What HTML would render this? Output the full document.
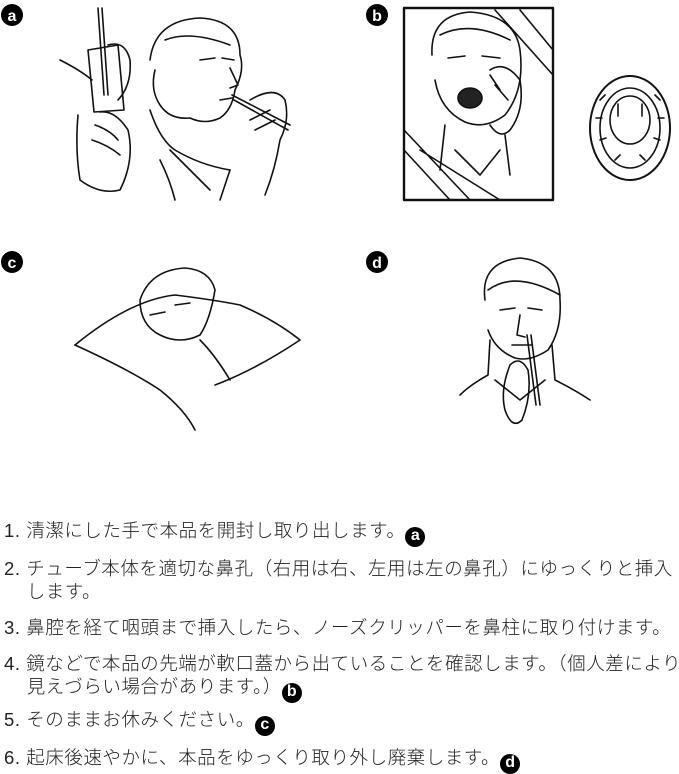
<!DOCTYPE html>
<html><head><meta charset="utf-8"><style>
body{margin:0;width:679px;height:767px;background:#fff;position:relative;overflow:hidden;font-family:"Liberation Sans","Noto Sans CJK JP",sans-serif;color:#222}
svg{position:absolute;left:0;top:0}
.t{position:absolute;left:4px;font-size:18.5px;line-height:23px;white-space:nowrap;letter-spacing:0.55px;font-weight:300}
.b{display:inline-block;width:20px;height:20px;border-radius:50%;background:#000;color:#fff;font-size:16px;line-height:18px;text-align:center;font-weight:bold;vertical-align:-3px;margin-left:0;letter-spacing:0}
</style></head><body>
<svg width="679" height="500" viewBox="0 0 679 500" fill="none" stroke="#111" stroke-width="1.6" stroke-linecap="round" stroke-linejoin="round">
<g fill="#000" stroke="none">
<circle cx="12" cy="15" r="11"/><circle cx="377" cy="15" r="11"/><circle cx="12" cy="262" r="11"/><circle cx="377" cy="262" r="11"/>
</g>
<g fill="#fff" stroke="none" font-family="Liberation Sans" font-weight="bold" font-size="16" text-anchor="middle">
<text x="12" y="21">a</text><text x="377" y="21">b</text><text x="12" y="268">c</text><text x="377" y="268">d</text>
</g>
<path d="M98 8 L104 95"/><path d="M102 8 L108 95"/>
<path d="M88 50 L118 45 L124 110 L94 112 Z"/>
<path d="M60 60 Q80 70 92 80"/>
<path d="M108 45 Q125 40 130 60 Q132 85 118 100"/>
<path d="M78 115 Q75 150 80 180 Q100 195 120 190 Q135 160 128 130 Q115 110 100 112"/>
<path d="M95 125 Q110 130 118 140 M92 140 Q108 145 120 155"/>
<path d="M150 60 Q155 20 200 18 Q240 20 240 55 Q245 70 235 90 Q232 110 220 118 Q205 125 190 118 Q170 120 160 105 Q150 90 155 70"/>
<path d="M165 40 Q190 30 230 45"/><path d="M200 60 L215 58 M222 58 L234 60"/><path d="M230 68 L238 85 L230 88"/>
<path d="M220 100 L232 98"/><path d="M232 95 L290 125 M234 100 L288 130"/>
<path d="M150 110 Q160 140 175 150 Q200 165 230 170"/>
<path d="M170 150 L210 190 M230 170 L220 200 M160 160 Q170 180 175 200"/>
<path d="M250 100 Q275 85 285 100 Q290 120 280 140 Q275 170 265 195 M250 120 L270 110 M255 130 L275 120"/>
<rect x="404" y="8" width="149" height="192" stroke-width="2.4"/>
<path d="M520 10 L553 50 M495 10 L553 75"/>
<path d="M404 130 L470 200 M404 150 L450 200 M420 150 L500 200"/>
<path d="M432 55 Q430 15 470 12 Q515 15 520 50 Q525 90 505 115 Q485 130 465 122 Q440 110 435 80"/>
<path d="M440 35 Q470 20 510 40"/><path d="M448 58 L465 56 M482 56 L500 58"/>
<ellipse cx="470" cy="98" rx="12" ry="10" fill="#222"/>
<path d="M490 70 Q505 60 520 80 Q525 110 510 130 Q500 140 490 125 M490 75 L500 90 M495 85 L508 100"/>
<path d="M445 125 L440 170 M505 135 L510 175 M455 150 L480 175 L500 150"/>
<ellipse cx="630" cy="128" rx="40" ry="52" stroke-width="2"/>
<ellipse cx="630" cy="128" rx="30" ry="40"/>
<ellipse cx="630" cy="120" rx="20" ry="24"/>
<path d="M618 104 L618 116 M642 104 L642 116"/>
<path d="M600 100 L605 95 M596 118 L602 118 M600 140 L606 138 M660 100 L655 95 M664 118 L658 118 M660 140 L654 138 M615 160 L620 155 M645 160 L640 155"/>
<path d="M75 345 Q130 300 175 295 Q215 300 240 305 Q275 320 300 340 Q255 370 215 385"/>
<path d="M140 300 Q150 270 185 268 Q210 270 215 290 Q210 320 200 335 Q180 345 160 335 Q140 325 140 300"/>
<path d="M150 315 L165 312 M175 305 L190 303"/>
<path d="M75 345 Q130 370 160 390 Q185 410 195 430"/>
<path d="M200 340 Q215 355 230 380"/>
<path d="M485 300 Q480 262 520 258 Q560 262 560 300 Q562 330 548 350 Q530 362 515 358 Q495 350 488 330"/>
<path d="M488 290 Q515 270 560 295"/><path d="M500 310 L515 308 M528 308 L542 310"/>
<path d="M520 315 L517 335 L525 337"/><path d="M512 345 L532 345"/>
<path d="M527 335 L536 405 M531 335 L540 405"/>
<path d="M490 340 L488 375 Q470 385 460 395 M552 345 L555 380 Q575 390 590 400"/>
<path d="M510 365 Q520 355 528 370 Q532 395 522 420 Q512 430 505 410 Q500 390 510 365"/>
<path d="M495 380 L520 400 L545 380"/>
</svg>
<div class="t" style="top:519px">1. 清潔にした手で本品を開封し取り出します。<span class="b">a</span></div>
<div class="t" style="top:557px">2. チューブ本体を適切な鼻孔（右用は右、左用は左の鼻孔）にゆっくりと挿入</div>
<div class="t" style="top:580px">&nbsp;&nbsp;&nbsp;&nbsp;します。</div>
<div class="t" style="top:616px">3. 鼻腔を経て咽頭まで挿入したら、ノーズクリッパーを鼻柱に取り付けます。</div>
<div class="t" style="top:652px">4. 鏡などで本品の先端が軟口蓋から出ていることを確認します。（個人差により</div>
<div class="t" style="top:675px">&nbsp;&nbsp;&nbsp;&nbsp;見えづらい場合があります。）<span class="b">b</span></div>
<div class="t" style="top:708px">5. そのままお休みください。<span class="b">c</span></div>
<div class="t" style="top:746px">6. 起床後速やかに、本品をゆっくり取り外し廃棄します。<span class="b">d</span></div>
</body></html>
